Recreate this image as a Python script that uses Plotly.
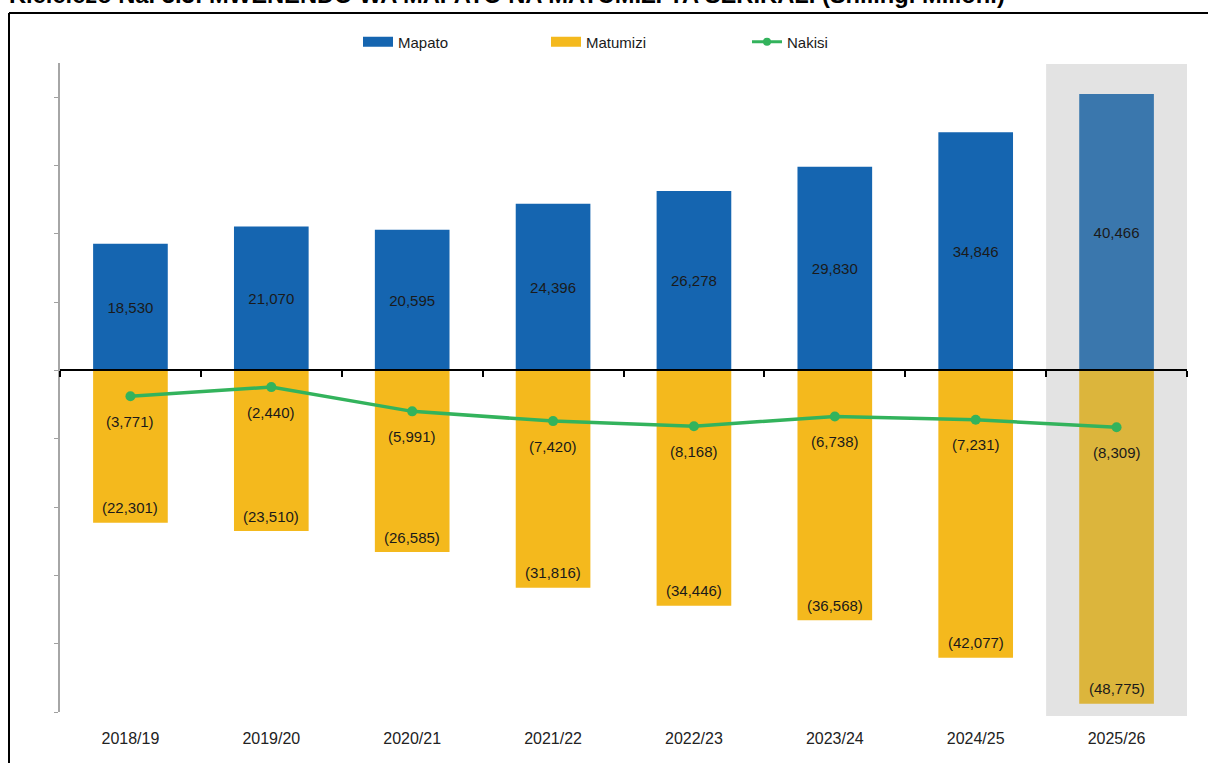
import plotly.graph_objects as go

# ---------------- data ----------------
years = ["2018/19", "2019/20", "2020/21", "2021/22", "2022/23", "2023/24", "2024/25", "2025/26"]
mapato = [18530, 21070, 20595, 24396, 26278, 29830, 34846, 40466]
matumizi = [-22301, -23510, -26585, -31816, -34446, -36568, -42077, -48775]
nakisi = [-3771, -2440, -5991, -7420, -8168, -6738, -7231, -8309]
y_ticks = [-50000, -40000, -30000, -20000, -10000, 0, 10000, 20000, 30000, 40000]

title_text = "Kielelezo Na. 3.3: MWENENDO WA MAPATO NA MATUMIZI YA SERIKALI (Shilingi Milioni)"


def fmt(v):
    s = f"{abs(v):,}"
    return f"({s})" if v < 0 else s


# ---------------- layout geometry (pixels) ----------------
W, H = 1208, 763
L, R, T, B = 60, 21, 63, 51
PW, PH = W - L - R, H - T - B


def px(xp):
    return (xp - L) / PW


def py(yp):
    return (H - B - yp) / PH


FONT = "Liberation Sans, Arial, sans-serif"
BLUE = "#1565b0"
BLUE_LAST = "#3a77ad"
YELLOW = "#f4b91d"
YELLOW_LAST = "#dcb53c"
GREEN = "#33b35c"

blue_cols = [BLUE] * (len(years) - 1) + [BLUE_LAST]
yel_cols = [YELLOW] * (len(years) - 1) + [YELLOW_LAST]

fig = go.Figure()

fig.add_trace(go.Bar(
    x=years, y=mapato, width=0.53, marker=dict(color=blue_cols, line=dict(width=0)),
    text=[fmt(v) for v in mapato], textposition="inside", insidetextanchor="middle",
    textfont=dict(family=FONT, size=15, color="#1a1a1a"), showlegend=False,
    name="Mapato",
))
fig.add_trace(go.Bar(
    x=years, y=matumizi, width=0.53, marker=dict(color=yel_cols, line=dict(width=0)),
    showlegend=False, name="Matumizi",
))
fig.add_trace(go.Scatter(
    x=years, y=nakisi, mode="lines+markers", line=dict(color=GREEN, width=3.5),
    marker=dict(color=GREEN, size=10), showlegend=False, name="Nakisi",
))

# dummy trace to build the zero-line axis
fig.add_trace(go.Scatter(x=[0], y=[None], xaxis="x2", showlegend=False, hoverinfo="skip"))

# legend entries (separate legends for exact placement)
fig.add_trace(go.Scatter(x=[None], y=[None], mode="lines", line=dict(color=BLUE, width=10),
                         name="Mapato", legend="legend"))
fig.add_trace(go.Scatter(x=[None], y=[None], mode="lines", line=dict(color=YELLOW, width=10),
                         name="Matumizi", legend="legend2"))
fig.add_trace(go.Scatter(x=[None], y=[None], mode="lines+markers", line=dict(color=GREEN, width=3),
                         marker=dict(color=GREEN, size=8), name="Nakisi", legend="legend3"))

annotations = []
for yr, v in zip(years, matumizi):
    annotations.append(dict(x=yr, y=v, xref="x", yref="y", text=fmt(v), showarrow=False,
                            yshift=15, yanchor="middle",
                            font=dict(family=FONT, size=15, color="#1a1a1a")))
for yr, v in zip(years, nakisi):
    annotations.append(dict(x=yr, y=v, xref="x", yref="y", text=fmt(v), showarrow=False,
                            yshift=-25, yanchor="middle",
                            font=dict(family=FONT, size=15, color="#1a1a1a")))
annotations.append(dict(x=px(7), y=py(10), xref="paper", yref="paper", text="<b>" + title_text + "</b>",
                        showarrow=False, xanchor="left", yanchor="bottom",
                        font=dict(family=FONT, size=23.7, color="#000000")))

shapes = [
    dict(type="rect", xref="x", yref="paper", x0=6.5, x1=7.5, y0=py(716), y1=py(64),
         fillcolor="#e3e3e3", line=dict(width=0), layer="below"),
    dict(type="line", xref="paper", yref="paper", x0=px(9), x1=px(9), y0=py(13), y1=py(770),
         line=dict(color="#000000", width=2)),
    dict(type="line", xref="paper", yref="paper", x0=px(9), x1=px(1215), y0=py(13), y1=py(13),
         line=dict(color="#000000", width=2)),
]

leg_common = dict(orientation="h", xanchor="left", yanchor="middle", bgcolor="rgba(0,0,0,0)",
                  font=dict(family=FONT, size=15, color="#1a1a1a"), itemwidth=30)

fig.update_layout(
    width=W, height=H,
    margin=dict(l=L, r=R, t=T, b=B),
    paper_bgcolor="white", plot_bgcolor="rgba(0,0,0,0)",
    barmode="relative",
    font=dict(family=FONT, size=15, color="#1a1a1a"),
    xaxis=dict(type="category", range=[-0.5, 7.5], showline=False, ticks="", showgrid=False,
               zeroline=False, tickfont=dict(family=FONT, size=16, color="#222222"),
               ticklabelstandoff=15),
    xaxis2=dict(overlaying="x", anchor="free", position=50000 / 95000, side="bottom",
                range=[-0.5, 7.5], showline=True, linecolor="#000000", linewidth=2,
                ticks="outside", tickvals=[-0.5 + i for i in range(9)], ticklen=6,
                tickwidth=1.5, tickcolor="#000000", showticklabels=False, showgrid=False,
                zeroline=False),
    yaxis=dict(range=[-50000, 45000], tickvals=y_ticks, showticklabels=False, ticks="outside",
               ticklen=4, tickcolor="#a0a0a0", showline=True, linecolor="#a6a6a6", linewidth=1.5,
               showgrid=False, zeroline=False),
    legend=dict(x=px(358), y=py(42), **leg_common),
    legend2=dict(x=px(546), y=py(42), **leg_common),
    legend3=dict(x=px(747), y=py(42), **leg_common),
    annotations=annotations,
    shapes=shapes,
)

fig.write_html(
    "out.html",
    config={"displayModeBar": False},
    post_script="document.body.style.margin='0px';document.body.style.overflow='hidden';",
)
